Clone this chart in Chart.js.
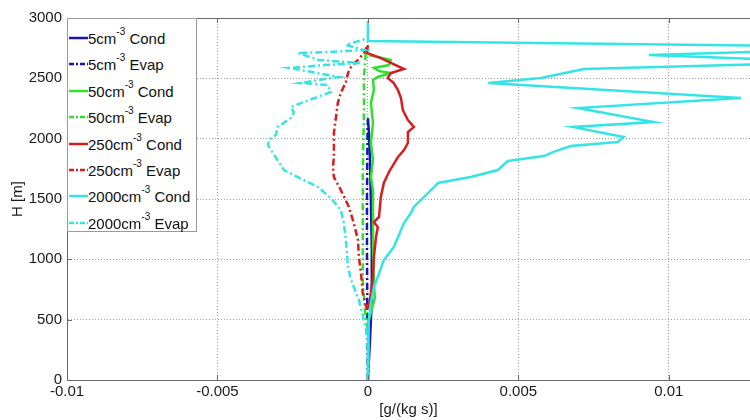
<!DOCTYPE html>
<html>
<head>
<meta charset="utf-8">
<script src="https://cdn.jsdelivr.net/npm/chart.js@4.4.1/dist/chart.umd.min.js"></script>
<style>
  html, body { margin: 0; padding: 0; background: #fff; overflow: hidden; }
  #wrap { position: relative; width: 750px; height: 420px; }
  #legend {
    position: absolute; left: 67px; top: 18px; width: 130px; height: 214px;
    background: #fff; border: 1px solid #9a9a9a; box-sizing: border-box;
    font-family: "Liberation Sans", Arial, sans-serif; font-size: 15px; color: #111;
  }
  #legend .row { position: absolute; left: 0; height: 26px; line-height: 26px; white-space: nowrap; }
  #legend svg { position: absolute; left: 1px; top: 8px; }
  #legend span { position: absolute; left: 20px; top: 1px; }
  #legend sup { font-size: 10px; position: relative; top: -2px; vertical-align: top; line-height: 16px; }
</style>
</head>
<body>
<div id="wrap">
  <canvas id="lineChart" width="750" height="420"></canvas>
  <div id="legend"></div>
</div>
<script>
// heights [m] and rates [g/(kg s)]
const blueCondH = [0, 331, 663, 1077, 1492, 1823, 2072, 2171];
const blueCondX = [0, 0.00007, 0.00013, 0.00013, 0.0001, 0.00007, 0.00003, 0];

const blueEvapH = [0, 414, 663, 1077, 1492, 1823, 2072, 2155];
const blueEvapX = [0, -0.00002, -0.00002, -0.00003, -0.00003, -0.00002, -0.00001, 0];

const greenCondH = [0, 290, 472, 555, 680, 804, 1077, 1326, 1575, 1682, 1823, 1964, 2130, 2295, 2403, 2486, 2511, 2544, 2561, 2586, 2610, 2652, 2693];
const greenCondX = [0, 0.00003, 0, 0.0001, 0.00023, 0.0002, 0.00017, 0.00017, 0.00017, 0.0001, 0.00017, 0.0001, 0.00017, 0.0001, 0.0002, 0.00017, 0.00033, 0.00076, 0.00037, 0.0002, 0.0007, 0.00076, 0.00003];

const greenEvapH = [414, 580, 829, 1326, 1682, 2238, 2511, 2710];
const greenEvapX = [0, -0.0001, -0.00017, -0.00017, -0.00017, -0.00013, -0.00013, -0.00007];

const redCondH = [597, 663, 721, 854, 1019, 1185, 1268, 1309, 1351, 1517, 1633, 1724, 1848, 1906, 1964, 2055, 2097, 2155, 2238, 2337, 2403, 2461, 2503, 2544, 2577, 2668, 2710, 2776];
const redCondX = [0, 0.00007, 0.0001, 0.00017, 0.0002, 0.00027, 0.00033, 0.0002, 0.00037, 0.00043, 0.00053, 0.0007, 0.001, 0.0012, 0.00133, 0.00133, 0.00153, 0.00133, 0.00116, 0.0011, 0.001, 0.00086, 0.00066, 0.00076, 0.0012, 0.00043, -0.00003, 0];

const redEvapH = [580, 721, 887, 1019, 1160, 1301, 1434, 1575, 1682, 1765, 1848, 2047, 2180, 2295, 2378, 2470, 2544, 2594, 2652, 2710, 2776];
const redEvapX = [-0.00003, -0.00017, -0.00023, -0.0003, -0.00033, -0.00047, -0.00063, -0.0009, -0.00113, -0.00116, -0.00113, -0.00113, -0.00106, -0.001, -0.0009, -0.00073, -0.00066, -0.00056, -0.00033, -0.00013, 0];

const cyanCondH = [0, 166, 497, 638, 771, 854, 994, 1102, 1301, 1384, 1434, 1599, 1633, 1682, 1740, 1815, 1856, 1889, 1939, 1972, 2014, 2097, 2138, 2254, 2337, 2461, 2503, 2577, 2620, 2655, 2693, 2725, 2770, 2810, 2975];
const cyanCondX = [0, 0, 0.00003, 0.0001, 0.0002, 0.00033, 0.00053, 0.00086, 0.0012, 0.00143, 0.00153, 0.0022, 0.00233, 0.00342, 0.00432, 0.00465, 0.00585, 0.00615, 0.00674, 0.0083, 0.0085, 0.00681, 0.0095, 0.00698, 0.0124, 0.004, 0.00575, 0.00718, 0.0135, 0.0135, 0.00934, 0.0135, 0.0135, 0, 0];

const cyanEvapH = [0, 249, 439, 663, 829, 936, 1160, 1301, 1409, 1508, 1599, 1682, 1740, 1906, 1947, 1989, 2030, 2097, 2171, 2221, 2262, 2304, 2387, 2445, 2461, 2503, 2511, 2569, 2586, 2610, 2627, 2652, 2710, 2718, 2735, 2776, 2834];
const cyanEvapX = [0.00003, 0, -0.00007, -0.0003, -0.00056, -0.00066, -0.00073, -0.0008, -0.0009, -0.00123, -0.00166, -0.00233, -0.00279, -0.00322, -0.00332, -0.00329, -0.00306, -0.003, -0.00256, -0.00246, -0.00256, -0.00213, -0.00123, -0.00133, -0.00223, -0.00123, -0.00096, -0.00223, -0.00262, -0.00146, -0.00023, -0.00163, -0.00233, -0.00133, -0.00013, -0.00073, 0];

const xTicks = [-0.01, -0.005, 0, 0.005, 0.01];
const yTicks = [0, 500, 1000, 1500, 2000, 2500, 3000];

const BLUE = '#1616b4', GREEN = '#2fe02f', RED = '#d61e1e', CYAN = '#35e4e4';
const DASHDOT = [7, 3, 2, 3];

const series = [
    { n: '5', kind: 'Cond', color: BLUE, xs: blueCondX, hs: blueCondH },
    { n: '5', kind: 'Evap', color: BLUE, xs: blueEvapX, hs: blueEvapH },
    { n: '50', kind: 'Cond', color: GREEN, xs: greenCondX, hs: greenCondH },
    { n: '50', kind: 'Evap', color: GREEN, xs: greenEvapX, hs: greenEvapH },
    { n: '250', kind: 'Cond', color: RED, xs: redCondX, hs: redCondH },
    { n: '250', kind: 'Evap', color: RED, xs: redEvapX, hs: redEvapH },
    { n: '2000', kind: 'Cond', color: CYAN, xs: cyanCondX, hs: cyanCondH },
    { n: '2000', kind: 'Evap', color: CYAN, xs: cyanEvapX, hs: cyanEvapH }
];

function toPoints(xs, hs) {
    return xs.map(function (x, i) { return { x: x, y: hs[i] }; });
}

// frame on top + inward tick marks like the original
var framePlugin = {
    id: 'frame',
    afterDatasetsDraw: function (chart) {
        var ctx = chart.ctx, a = chart.chartArea;
        var xs = chart.scales.x, ys = chart.scales.y;
        ctx.save();
        ctx.strokeStyle = '#6a6a6a';
        ctx.lineWidth = 1;
        ctx.beginPath();
        ctx.moveTo(a.left, a.top + 0.5);
        ctx.lineTo(a.right, a.top + 0.5);
        xs.ticks.forEach(function (t) {
            var px = Math.round(xs.getPixelForValue(t.value)) + 0.5;
            ctx.moveTo(px, a.bottom); ctx.lineTo(px, a.bottom - 5);
            ctx.moveTo(px, a.top); ctx.lineTo(px, a.top + 5);
        });
        ys.ticks.forEach(function (t) {
            var py = Math.round(ys.getPixelForValue(t.value)) + 0.5;
            ctx.moveTo(a.left, py); ctx.lineTo(a.left + 5, py);
        });
        ctx.stroke();
        ctx.restore();
    }
};

Chart.defaults.font.family = '"Liberation Sans", Arial, sans-serif';
Chart.defaults.color = '#1a1a1a';

var ctx = document.getElementById('lineChart').getContext('2d');
var myChart = new Chart(ctx, {
    type: 'scatter',
    data: {
        datasets: series.map(function (s, i) {
            return {
                label: s.n + 'cm-3 ' + s.kind,
                data: toPoints(s.xs, s.hs),
                showLine: true,
                borderColor: s.color,
                backgroundColor: s.color,
                borderWidth: 2.5,
                borderDash: s.kind === 'Evap' ? DASHDOT : [],
                pointRadius: 0,
                tension: 0,
                order: series.length - i // later series drawn on top
            };
        })
    },
    options: {
        responsive: false,
        animation: false,
        layout: { padding: { top: 18, right: 0, left: 0, bottom: 0 } },
        plugins: {
            legend: { display: false },
            tooltip: { enabled: false }
        },
        scales: {
            x: {
                type: 'linear',
                min: -0.01,
                max: 0.0127,
                afterBuildTicks: function (scale) {
                    scale.ticks = xTicks.map(function (v) { return { value: v }; });
                },
                afterFit: function (scale) { scale.height = 40; },
                ticks: {
                    font: { size: 15 },
                    padding: 3,
                    maxRotation: 0,
                    callback: function (v) { return String(Math.round(v * 10000) / 10000); }
                },
                grid: { color: '#9c9c9c', tickLength: 0, drawTicks: false },
                border: { display: true, color: '#6a6a6a', dash: [1, 2] },
                title: {
                    display: true,
                    text: '[g/(kg s)]',
                    font: { size: 15 },
                    padding: { top: 0, bottom: 1 }
                }
            },
            y: {
                type: 'linear',
                min: 0,
                max: 3000,
                afterBuildTicks: function (scale) {
                    scale.ticks = yTicks.map(function (v) { return { value: v }; });
                },
                afterFit: function (scale) { scale.width = 67; },
                ticks: {
                    font: { size: 15 },
                    padding: 5,
                    callback: function (v) { return String(v); }
                },
                grid: { color: '#9c9c9c', drawTicks: false },
                border: { display: true, color: '#6a6a6a', dash: [1, 2] },
                title: {
                    display: true,
                    text: 'H [m]',
                    font: { size: 15 },
                    padding: { top: 9, bottom: 0 }
                }
            }
        }
    },
    plugins: [framePlugin]
});

// html legend (needs the superscript)
var legend = document.getElementById('legend');
series.forEach(function (s, i) {
    var row = document.createElement('div');
    row.className = 'row';
    row.style.top = (6 + i * 26.4) + 'px';
    var dash = s.kind === 'Evap' ? ' stroke-dasharray="5,2,2,2"' : '';
    row.innerHTML = '<svg width="19" height="10"><line x1="0" y1="5" x2="19" y2="5" stroke="' + s.color +
        '" stroke-width="2.5"' + dash + '/></svg><span>' + s.n + 'cm<sup>-3</sup> ' + s.kind + '</span>';
    legend.appendChild(row);
});
</script>
</body>
</html>
